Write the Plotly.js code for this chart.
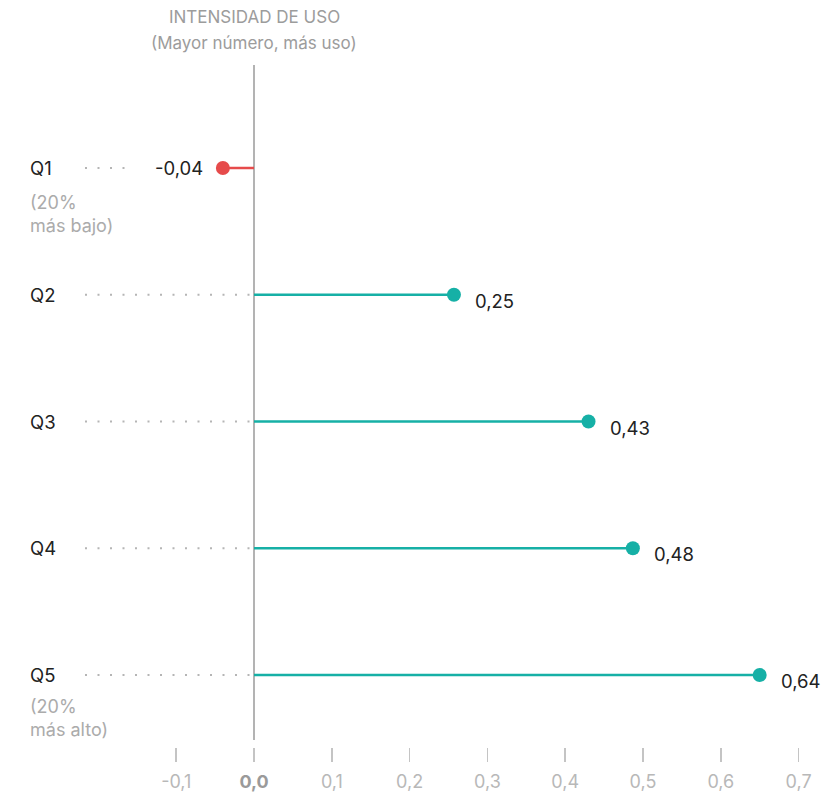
<!DOCTYPE html>
<html>
<head>
<meta charset="utf-8">
<script src="https://cdn.plot.ly/plotly-3.0.1.min.js"></script>
<style>
html,body{margin:0;padding:0;background:#fff;}
#chart{width:823px;height:794px;}
</style>
</head>
<body>
<div id="chart"></div>
<script>
// ---- data ----
const categories = ["Q1", "Q2", "Q3", "Q4", "Q5"];
const subLabels = ["(20%<br>más bajo)", "", "", "", "(20%<br>más alto)"];
const values = [-0.04, 0.257, 0.43, 0.487, 0.65];
const valueLabels = ["-0,04", "0,25", "0,43", "0,48", "0,64"];
const tickVals = [-0.1, 0, 0.1, 0.2, 0.3, 0.4, 0.5, 0.6, 0.7];
const tickText = ["-0,1", "<b><span style='color:#9a9a9a'>0,0</span></b>", "0,1", "0,2", "0,3", "0,4", "0,5", "0,6", "0,7"];
const titleLines = ["INTENSIDAD DE USO", "(Mayor número, más uso)"];

// ---- styles ----
const TEAL = "#16b0a6";
const RED = "#e64b4b";
const FONT = "Inter, Roboto, 'Liberation Sans', sans-serif";
const yIdx = categories.map((_, i) => i);
const colorOf = v => v < 0 ? RED : TEAL;
const subShift = i => (i === 0 ? -22 : -19);

const traces = [];
// stems
values.forEach((v, i) => {
  traces.push({
    type: "scatter", mode: "lines",
    x: [0, v], y: [i, i],
    line: {color: colorOf(v), width: 2.5},
    hoverinfo: "skip", showlegend: false
  });
});
// dots
traces.push({
  type: "scatter", mode: "markers",
  x: values, y: yIdx,
  marker: {size: 14, color: values.map(colorOf)},
  showlegend: false, hoverinfo: "x+y"
});

const annotations = [];
// title
annotations.push({
  xref: "x", yref: "paper", x: 0, y: 1, yshift: 48, yanchor: "middle",
  text: titleLines[0], showarrow: false,
  font: {family: FONT, size: 17, color: "#9c9c9c"}
});
annotations.push({
  xref: "x", yref: "paper", x: 0, y: 1, yshift: 22, yanchor: "middle",
  text: titleLines[1], showarrow: false,
  font: {family: FONT, size: 17, color: "#9c9c9c"}
});
// category labels
categories.forEach((c, i) => {
  annotations.push({
    xref: "paper", yref: "y", x: 0, xshift: 28, y: i, xanchor: "left", yanchor: "middle",
    text: c, showarrow: false,
    font: {family: FONT, size: 18.5, color: "#222"}
  });
  if (subLabels[i]) {
    annotations.push({
      xref: "paper", yref: "y", x: 0, xshift: 28, y: i, yshift: subShift(i), xanchor: "left", yanchor: "top",
      text: subLabels[i], showarrow: false, align: "left",
      font: {family: FONT, size: 18, color: "#ababab"}
    });
  }
});
// value labels
values.forEach((v, i) => {
  const neg = v < 0;
  annotations.push({
    xref: "x", yref: "y", x: v, y: i,
    xanchor: neg ? "right" : "left", yanchor: "middle",
    xshift: neg ? -18 : 19, yshift: neg ? 0 : -6,
    text: valueLabels[i], showarrow: false,
    font: {family: FONT, size: 18.5, color: "#222"}
  });
});

const shapes = [];
// leader dots
values.forEach((v, i) => {
  const neg = v < 0;
  shapes.push({
    type: "line", xref: "paper", yref: "y",
    x0: 85 / 823, x1: (neg ? 128 : 252) / 823, y0: i, y1: i,
    line: {color: "#b5b5b5", width: 2, dash: "2px,10.5px"}
  });
});
// zero line
shapes.push({
  type: "line", xref: "x", yref: "y", x0: 0, x1: 0, y0: -0.8126, y1: 4.513,
  line: {color: "#8a8a8a", width: 1.3}, layer: "below"
});

const layout = {
  width: 823, height: 794,
  margin: {l: 0, r: 0, t: 65, b: 32},
  paper_bgcolor: "#fff", plot_bgcolor: "#fff",
  font: {family: FONT},
  xaxis: {
    range: [-0.3265, 0.7314],
    tickvals: tickVals, ticktext: tickText,
    ticks: "inside", ticklen: 14, tickwidth: 1.5, tickcolor: "#c4c4c4",
    ticklabelstandoff: 7,
    tickfont: {family: FONT, size: 18, color: "#b8b8b8"},
    showgrid: false, zeroline: false, showline: false, fixedrange: true
  },
  yaxis: {
    range: [4.686, -0.8126],
    showticklabels: false, showgrid: false, zeroline: false, showline: false, ticks: ""
  },
  annotations: annotations,
  shapes: shapes,
  showlegend: false
};

Plotly.newPlot("chart", traces, layout, {displayModeBar: false, staticPlot: true});
</script>
</body>
</html>
